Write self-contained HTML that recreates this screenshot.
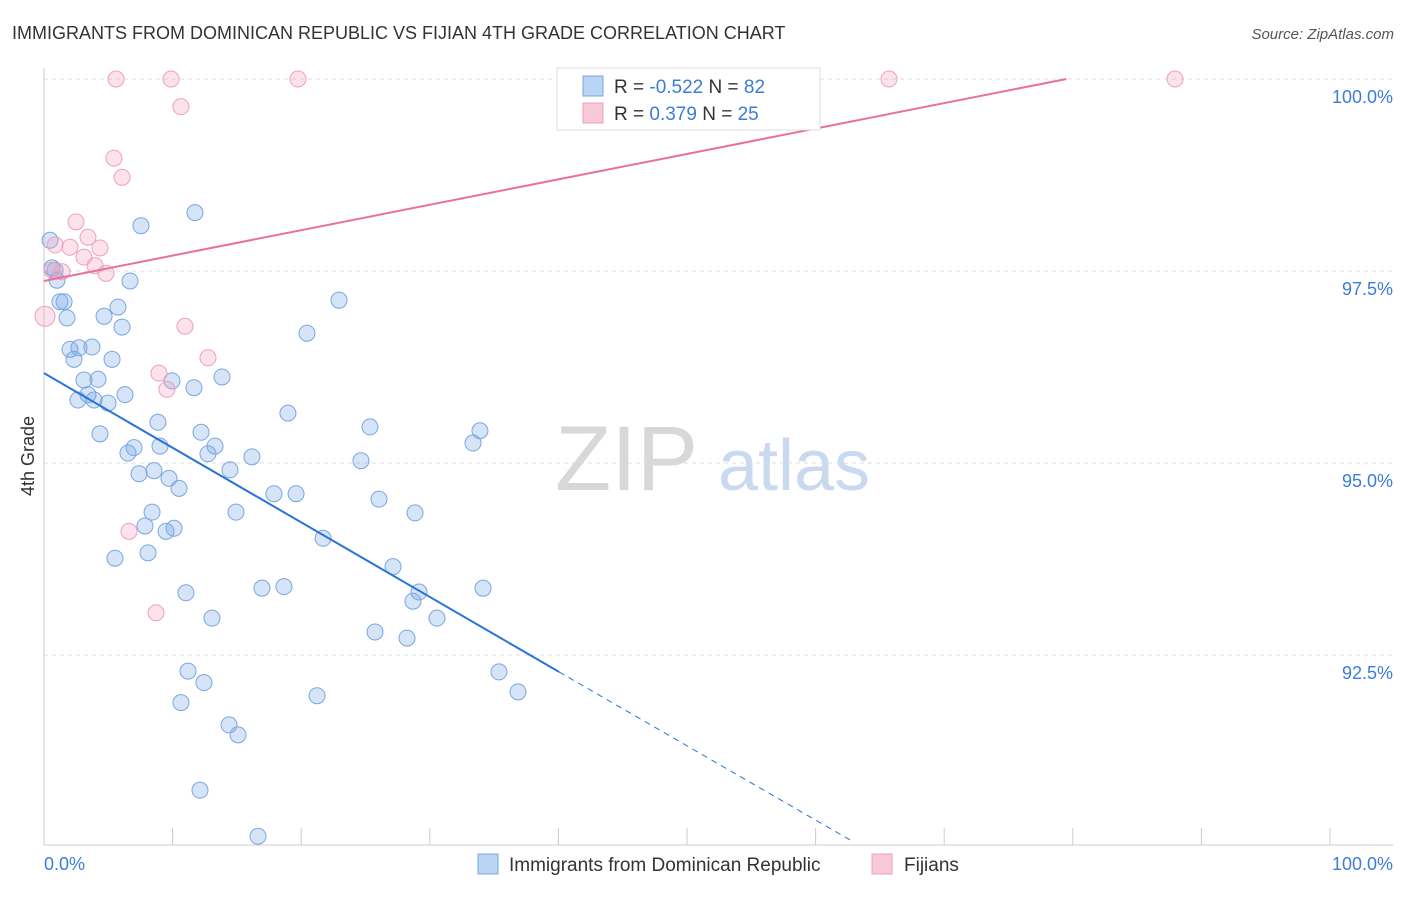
<!DOCTYPE html>
<html><head><meta charset="utf-8"><style>
body{margin:0;background:#fff;font-family:"Liberation Sans",sans-serif;}
svg text{font-family:"Liberation Sans",sans-serif;}
</style></head><body>
<svg id="chart" width="1406" height="892" xmlns="http://www.w3.org/2000/svg">
<text x="12" y="39" font-size="18" fill="#333">IMMIGRANTS FROM DOMINICAN REPUBLIC VS FIJIAN 4TH GRADE CORRELATION CHART</text>
<text x="1394" y="39" font-size="15" fill="#555" text-anchor="end" font-style="italic">Source: ZipAtlas.com</text>
<text transform="translate(34,456) rotate(-90)" font-size="18" fill="#333" text-anchor="middle">4th Grade</text>
<g>
<text x="555" y="490" font-size="92" fill="#d8d8d8" font-family="Liberation Serif,serif">ZIP</text>
<text x="718" y="490" font-size="72" fill="#c9daf0">atlas</text>
</g>
<g id="grid"></g>
<g id="axes"></g>
<g id="marks"></g>
<g>
<rect x="557" y="68" width="263" height="62" fill="#fff" stroke="#ddd"/>
<rect x="583" y="76" width="20" height="20" fill="#b9d3f3" stroke="#7aa6e0"/>
<text x="614" y="93" font-size="19" fill="#333">R = <tspan fill="#3b7dd8">-0.522</tspan>   N = <tspan fill="#3b7dd8">82</tspan></text>
<rect x="583" y="103" width="20" height="20" fill="#f8c9d8" stroke="#eea0bb"/>
<text x="614" y="120" font-size="19" fill="#333">R =  <tspan fill="#3b7dd8"> 0.379</tspan>   N = <tspan fill="#3b7dd8">25</tspan></text>
</g>
<g>
<rect x="478" y="854" width="20" height="20" fill="#b9d3f3" stroke="#7aa6e0"/>
<text x="509" y="871" font-size="19" fill="#333">Immigrants from Dominican Republic</text>
<rect x="872" y="854" width="20" height="20" fill="#f8c9d8" stroke="#eea0bb"/>
<text x="904" y="871" font-size="19" fill="#333">Fijians</text>
</g>
</svg>
<script>
const blueX=[0.47,0.62,0.86,1.01,1.24,1.56,1.79,2.02,2.33,2.72,3.73,3.11,4.20,2.64,3.42,3.89,4.98,5.29,4.67,5.75,6.07,6.69,7.54,11.74,6.30,4.35,6.53,7.00,8.86,9.02,9.95,11.66,13.84,7.39,8.55,9.72,10.50,8.40,7.85,9.49,10.11,5.52,8.09,12.21,13.30,12.75,14.46,16.17,14.93,11.04,13.06,16.95,18.66,17.88,19.60,18.97,20.45,22.94,21.70,24.65,25.35,26.05,28.85,27.14,28.69,29.16,30.56,25.74,28.23,33.36,33.90,34.14,35.38,36.86,11.20,12.44,10.65,21.23,14.39,15.09,12.13,16.64];
const blueY=[97.90,97.54,97.51,97.38,97.10,97.10,96.89,96.48,96.35,96.50,96.51,96.08,96.09,95.82,95.89,95.82,95.78,96.35,96.91,97.03,96.77,97.37,98.09,98.26,95.89,95.38,95.13,95.20,95.53,95.22,96.07,95.98,96.12,94.86,94.90,94.80,94.67,94.36,94.18,94.11,94.15,93.76,93.83,95.40,95.22,95.12,94.91,95.08,94.36,93.31,92.98,93.37,93.39,94.60,94.60,95.65,96.69,97.12,94.02,95.03,95.47,94.53,94.35,93.65,93.20,93.32,92.98,92.80,92.72,95.26,95.42,93.37,92.28,92.02,92.29,92.14,91.88,91.97,91.59,91.46,90.74,90.14];
const pinkX=[0.08,0.86,1.40,0.62,2.02,2.49,3.11,3.42,3.97,4.35,4.82,5.44,6.07,5.60,9.88,10.65,19.75,10.96,12.75,8.94,9.56,6.61,8.71,65.71,87.95];
const pinkY=[96.91,97.84,97.49,97.51,97.81,98.14,97.68,97.94,97.57,97.80,97.47,98.97,98.72,100,100,99.64,100,96.78,96.37,96.17,95.96,94.11,93.05,100,100];
const blueTrendX=[0,40.05,62.8];
const blueTrendY=[96.17,92.28,90.08];
const pinkTrendX=[0,79.5];
const pinkTrendY=[97.37,100];
const yTicks=[100,97.5,95,92.5];
const yTickLabels=["100.0%","97.5%","95.0%","92.5%"];
const xTicks=[0,10,20,30,40,50,60,70,80,90,100];

const sx=v=>44+v*12.86;
const sy=v=>79+(100-v)*76.8;
const NS="http://www.w3.org/2000/svg";
function mk(tag,attrs,parent){const e=document.createElementNS(NS,tag);for(const k in attrs)e.setAttribute(k,attrs[k]);document.getElementById(parent).appendChild(e);return e;}

yTicks.forEach((t,i)=>{
  const g=mk('line',{x1:44,x2:1393,y1:sy(t),y2:sy(t),stroke:'#ddd','stroke-dasharray':'4,4'},'grid');
  
  
  const l=mk('text',{x:1393,y:sy(t)+24,'font-size':18,fill:'#3b7dd8','text-anchor':'end'},'axes');
  l.textContent=yTickLabels[i];
  
  
});
const ya=mk('line',{x1:44,x2:44,y1:68,y2:845,stroke:'#ccc'},'axes');


const xa=mk('line',{x1:44,x2:1393,y1:845,y2:845,stroke:'#ccc'},'axes');


xTicks.forEach(t=>{
  const tk=mk('line',{x1:sx(t),x2:sx(t),y1:828,y2:845,stroke:'#ccc'},'axes');
  
  
});
const xl0=mk('text',{x:44,y:870,'font-size':18,fill:'#3b7dd8'},'axes');
xl0.textContent='0.0%';


const xl1=mk('text',{x:1393,y:870,'font-size':18,fill:'#3b7dd8','text-anchor':'end'},'axes');
xl1.textContent='100.0%';



blueX.forEach((x,i)=>{
  const c=mk('circle',{cx:sx(x),cy:sy(blueY[i]),r:8,fill:'rgba(120,165,230,0.3)',stroke:'#7aa6e0','stroke-width':1},'marks');
  
  
});
pinkX.forEach((x,i)=>{
  const c=mk('circle',{cx:sx(x),cy:sy(pinkY[i]),r:i===0?10:8,fill:'rgba(245,160,190,0.3)',stroke:'#eea0bb','stroke-width':1},'marks');
  
  
});
const bt=mk('line',{x1:sx(blueTrendX[0]),y1:sy(blueTrendY[0]),x2:sx(blueTrendX[1]),y2:sy(blueTrendY[1]),stroke:'#2a74d8','stroke-width':2},'marks');


const bd=mk('line',{x1:sx(blueTrendX[1]),y1:sy(blueTrendY[1]),x2:sx(blueTrendX[2]),y2:sy(blueTrendY[2]),stroke:'#2a74d8','stroke-width':1,'stroke-dasharray':'6,5'},'marks');


const pt=mk('line',{x1:sx(pinkTrendX[0]),y1:sy(pinkTrendY[0]),x2:sx(pinkTrendX[1]),y2:sy(pinkTrendY[1]),stroke:'#e8709a','stroke-width':2},'marks');


</script>
</body></html>
